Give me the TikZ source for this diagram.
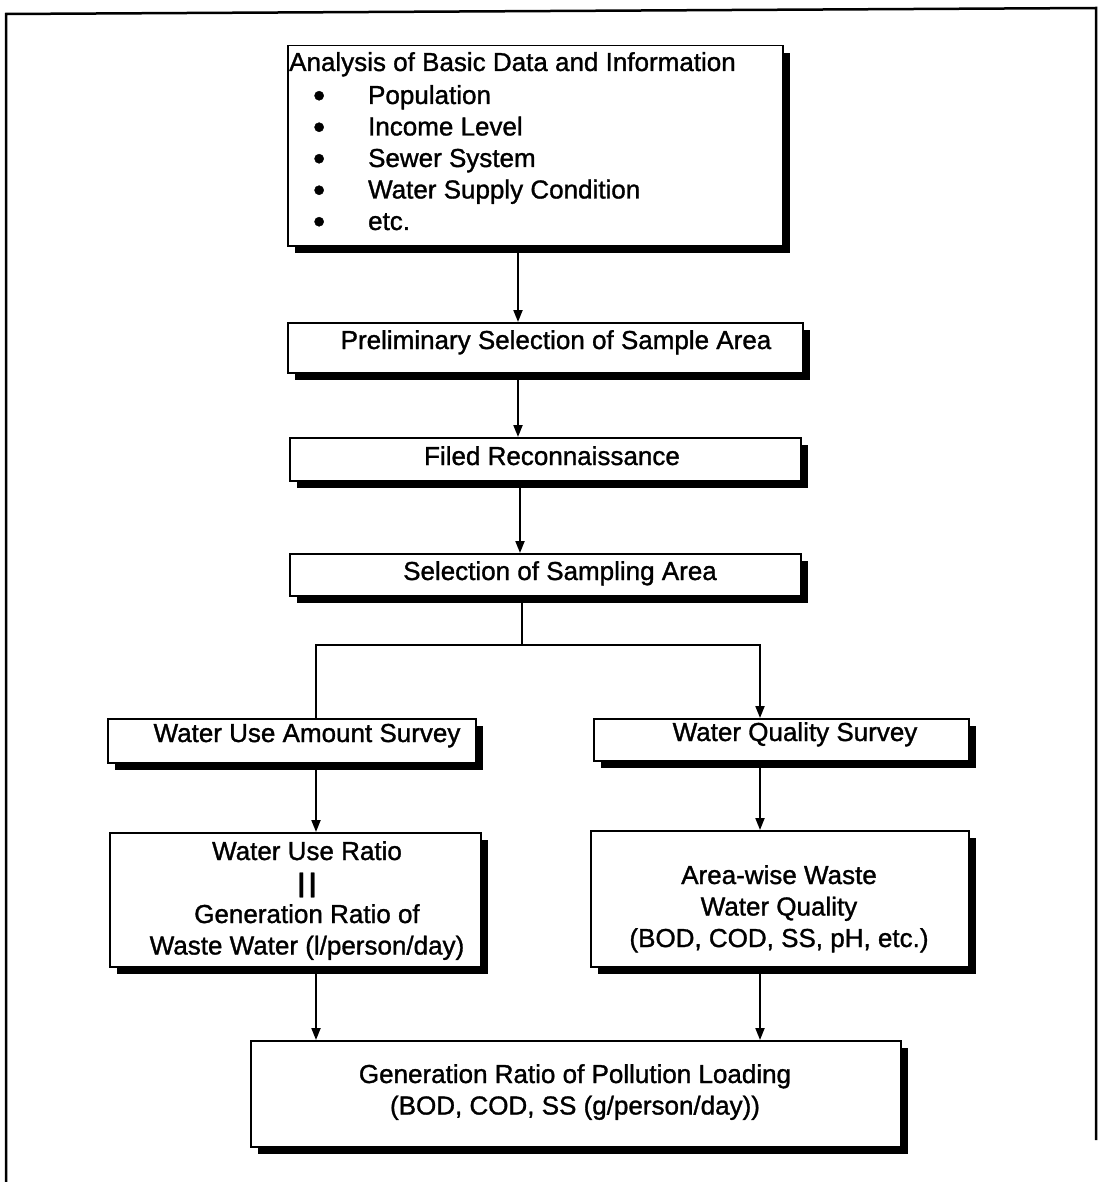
\documentclass[tikz,border=0pt]{standalone}
\usepackage{fontspec}
\setmainfont{Liberation Sans}[FakeBold=1.2]
\usetikzlibrary{arrows.meta}
\newcommand{\blt}{\raisebox{-3pt}{\fontsize{34}{31.5}\selectfont •}}
\begin{document}
\begin{tikzpicture}[x=1pt,y=-1pt,
  box/.style={draw=black, line width=1.5pt, fill=white, anchor=north west,
    inner sep=0pt,
    preaction={fill=black, transform canvas={shift={(7pt,-7pt)}}}},
  lbl/.style={font=\fontsize{26}{31.5}\selectfont, inner sep=0pt},
  link/.style={line width=2pt},
  arr/.style={link, -{Triangle[length=12pt,width=9pt]}},
  frame/.style={line width=2.5pt},
]
\useasboundingbox (0,0) rectangle (1104,1182);
\fill[white] (0,0) rectangle (1104,1182);

% outer frame (open at the bottom edge)
\draw[frame] (6,1182) -- (6,14) -- (1096,8) -- (1096,1140);

% boxes
\node[box, minimum width=495pt, minimum height=200pt] (basic)  at (287,45)  {};
\node[box, minimum width=515pt, minimum height=50pt]  (prelim) at (287,322) {};
\node[box, minimum width=511pt, minimum height=43pt]  (filed)  at (289,437) {};
\node[box, minimum width=511pt, minimum height=42pt]  (sel)    at (289,553) {};
\node[box, minimum width=368pt, minimum height=44pt]  (wuas)   at (107,718) {};
\node[box, minimum width=375pt, minimum height=42pt]  (wqs)    at (593,718) {};
\node[box, minimum width=371pt, minimum height=134pt] (wur)    at (109,832) {};
\node[box, minimum width=378pt, minimum height=136pt] (awq)    at (590,830) {};
\node[box, minimum width=650pt, minimum height=106pt] (gen)    at (250,1040) {};

% box texts
\node[lbl, anchor=base west] (basicT) at (289,71) {Analysis of Basic Data and Information};
\node[lbl, anchor=base west] (basicL) at (313,104) {%
  \begin{tabular}[t]{@{}l@{\hspace{43pt}}l@{}}
  \blt & Population\\
  \blt & Income Level\\
  \blt & Sewer System\\
  \blt & Water Supply Condition\\
  \blt & etc.
  \end{tabular}};
\node[lbl, anchor=base] (prelimT) at (556,349) {Preliminary Selection of Sample Area};
\node[lbl, anchor=base] (filedT)  at (552,465) {Filed Reconnaissance};
\node[lbl, anchor=base] (selT)    at (560,580) {Selection of Sampling Area};
\node[lbl, anchor=base] (wuasT)   at (307,742) {Water Use Amount Survey};
\node[lbl, anchor=base] (wqsT)    at (795,741) {Water Quality Survey};
\node[lbl, anchor=base] (wurT)    at (307,860) {%
  \begin{tabular}[t]{@{}c@{}}
  Water Use Ratio\\
  {\bfseries |\kern4pt|}\\
  Generation Ratio of\\
  Waste Water (l/person/day)
  \end{tabular}};
\node[lbl, anchor=base] (awqT)    at (779,884) {%
  \begin{tabular}[t]{@{}c@{}}
  Area-wise Waste\\
  Water Quality\\
  (BOD, COD, SS, pH, etc.)
  \end{tabular}};
\node[lbl, anchor=base] (genT)    at (575,1083) {%
  \begin{tabular}[t]{@{}c@{}}
  Generation Ratio of Pollution Loading\\
  (BOD, COD, SS (g/person/day))
  \end{tabular}};

% connector columns
\coordinate (cA) at (518,0);
\coordinate (cB) at (520,0);
\coordinate (split) at (522,645);
\coordinate (lx) at (316,0);
\coordinate (rx) at (760,0);

% connectors
\draw[arr]  (basic.south -| cA)  -- (prelim.north -| cA);
\draw[arr]  (prelim.south -| cA) -- (filed.north -| cA);
\draw[arr]  (filed.south -| cB)  -- (sel.north -| cB);
\draw[link] (sel.south -| split) -- (split);
\draw[link] (split) -| (wuas.north -| lx);
\draw[arr]  (split) -| (wqs.north -| rx);
\draw[arr]  (wuas.south -| lx) -- (wur.north -| lx);
\draw[arr]  (wqs.south -| rx)  -- (awq.north -| rx);
\draw[arr]  (wur.south -| lx)  -- (gen.north -| lx);
\draw[arr]  (awq.south -| rx)  -- (gen.north -| rx);
\end{tikzpicture}
\end{document}
